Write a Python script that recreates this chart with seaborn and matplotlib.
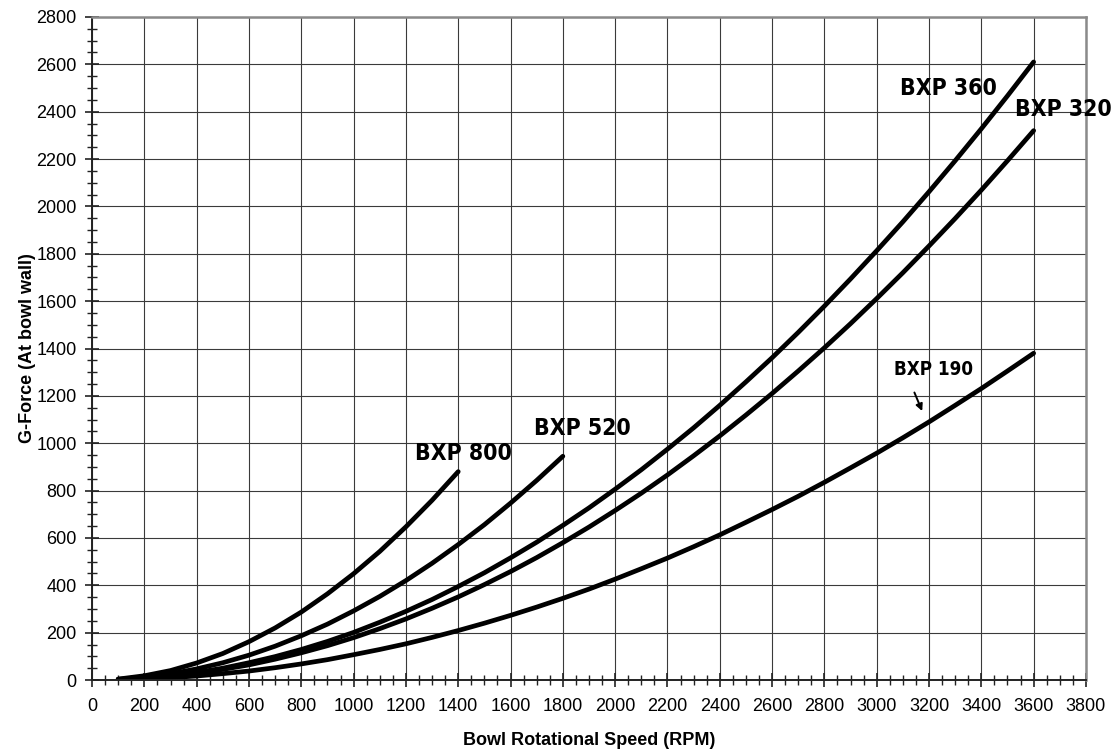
import numpy as np
import pandas as pd
import matplotlib
matplotlib.use('Agg')
import matplotlib.pyplot as plt
from matplotlib.ticker import MultipleLocator
import seaborn as sns

sns.set_style('white')
plt.rcParams['font.family'] = ['Liberation Sans', 'DejaVu Sans']
plt.rcParams['text.color'] = 'black'
plt.rcParams['axes.labelcolor'] = 'black'
plt.rcParams['xtick.color'] = 'black'
plt.rcParams['ytick.color'] = 'black'

# 读图估计的数据 (RPM, G-Force)
rpm_long = [100, 200, 300, 400, 500, 600, 700, 800, 900, 1000, 1100, 1200,
            1300, 1400, 1500, 1600, 1700, 1800, 1900, 2000, 2100, 2200,
            2300, 2400, 2500, 2600, 2700, 2800, 2900, 3000, 3100, 3200,
            3300, 3400, 3500, 3600]
g_360 = [2, 8, 18, 32, 50, 73, 99, 129, 163, 201, 244, 290,
         340, 395, 453, 516, 582, 653, 727, 806, 888, 975,
         1065, 1160, 1259, 1361, 1468, 1579, 1694, 1813, 1935, 2062,
         2193, 2328, 2467, 2610]
g_320 = [2, 7, 16, 29, 45, 64, 88, 115, 145, 179, 217, 258,
         303, 351, 403, 458, 517, 580, 646, 716, 789, 866,
         947, 1031, 1119, 1210, 1305, 1403, 1505, 1611, 1720, 1833,
         1949, 2069, 2193, 2320]
g_190 = [1, 4, 10, 17, 27, 38, 52, 68, 86, 107, 129, 153,
         180, 209, 240, 273, 308, 345, 384, 426, 470, 515,
         563, 613, 666, 720, 776, 835, 896, 958, 1023, 1090,
         1160, 1231, 1305, 1380]
rpm_520 = [100, 200, 300, 400, 500, 600, 700, 800, 900, 1000, 1100, 1200,
           1300, 1400, 1500, 1600, 1700, 1800]
g_520 = [3, 12, 26, 47, 73, 105, 143, 187, 236, 292, 353, 420,
         493, 572, 656, 747, 843, 945]
rpm_800 = [100, 200, 300, 400, 500, 600, 700, 800, 900, 1000, 1100, 1200,
           1300, 1400]
g_800 = [4, 18, 40, 72, 112, 162, 220, 287, 364, 449, 543, 647,
         759, 880]

curves = [
    ('BXP 360', rpm_long, g_360),
    ('BXP 320', rpm_long, g_320),
    ('BXP 190', rpm_long, g_190),
    ('BXP 520', rpm_520, g_520),
    ('BXP 800', rpm_800, g_800),
]

fig = plt.figure(figsize=(11.13, 7.51), dpi=100)
ax = fig.add_axes([0.0827, 0.0945, 0.8930, 0.8829])

for name, x, y in curves:
    df = pd.DataFrame({'rpm': x, 'g': y})
    sns.lineplot(data=df, x='rpm', y='g', color='black', linewidth=3.4,
                 ax=ax, solid_capstyle='round')

ax.set_xlim(0, 3800)
ax.set_ylim(0, 2800)
ax.xaxis.set_major_locator(MultipleLocator(200))
ax.xaxis.set_minor_locator(MultipleLocator(50))
ax.yaxis.set_major_locator(MultipleLocator(200))
ax.yaxis.set_minor_locator(MultipleLocator(50))

ax.grid(True, which='major', color='#3a3a3a', linewidth=0.8)
ax.set_axisbelow(True)

ax.tick_params(which='both', bottom=True, left=True, top=False, right=False)
ax.tick_params(which='major', direction='inout', length=10, width=1.2,
               color='#222222', labelsize=13, pad=6)
ax.tick_params(which='minor', direction='inout', length=7, width=1.0,
               color='#222222')
ax.tick_params(axis='x', which='major', pad=8)

for side in ['left', 'bottom']:
    ax.spines[side].set_color('#222222')
    ax.spines[side].set_linewidth(1.4)
for side in ['top', 'right']:
    ax.spines[side].set_color('#8a8a8a')
    ax.spines[side].set_linewidth(1.8)

ax.set_xlabel('Bowl Rotational Speed (RPM)', fontsize=13, fontweight='bold',
              labelpad=12)
ax.set_ylabel('G-Force (At bowl wall)', fontsize=13, fontweight='bold',
              labelpad=0)

# 曲线标注 (窄体粗字)
lab_font = dict(family='DejaVu Sans', fontstretch='condensed',
                fontweight='bold', fontsize=16.5, ha='center', va='center',
                color='black')
ax.text(3275, 2496, 'BXP 360', **lab_font)
ax.text(3712, 2410, 'BXP 320', **lab_font)
ax.text(3217, 1313, 'BXP 190', **{**lab_font, 'fontsize': 13.5})
ax.text(1875, 1064, 'BXP 520', **lab_font)
ax.text(1419, 958, 'BXP 800', **lab_font)

ax.annotate('', xy=(3178, 1125), xytext=(3140, 1225),
            arrowprops=dict(arrowstyle='-|>', color='black', lw=1.4,
                            mutation_scale=10))

fig.savefig('out.png', dpi=100)
